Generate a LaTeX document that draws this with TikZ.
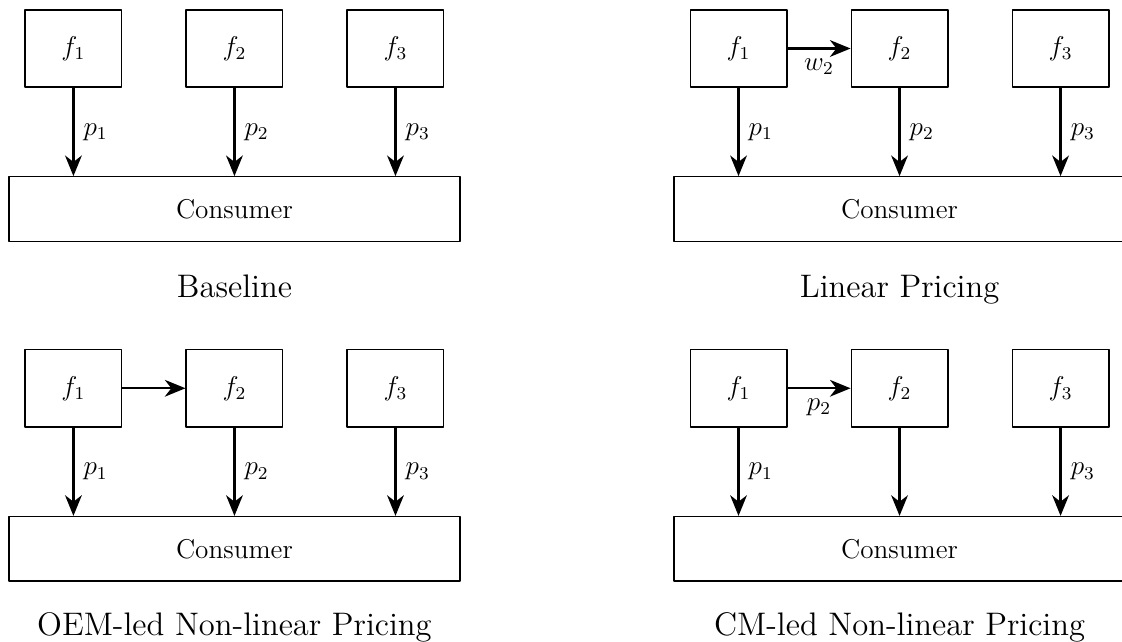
\documentclass[tikz,border=0pt,12pt]{standalone}
\usepackage{amsmath, amssymb}
\usetikzlibrary{arrows.meta,positioning,calc}

\begin{document}
\begin{tikzpicture}[line join=round,
  firm/.style={draw, semithick, minimum width=1.5cm, minimum height=1.2cm},
  cons/.style={draw, semithick, minimum width=7cm, minimum height=1cm},
  flow/.style={-{Stealth[length=3.2mm,width=2.6mm,inset=1mm]}, line width=1pt},
  paneltitle/.style={font=\large, anchor=base}]
\useasboundingbox (0,0) rectangle (17.42,-9.953);
% Baseline
\begin{scope}[shift={(0,0)}]
\node[firm] (A1) at (1.14,-0.753) {$f_1$};
\node[firm] (A2) at (3.64,-0.753) {$f_2$};
\node[firm] (A3) at (6.14,-0.753) {$f_3$};
\node[cons] (AC) at (3.64,-3.245) {Consumer};
\draw[flow] (A1) -- node[right] {$p_1$} (A1 |- AC.north);
\draw[flow] (A2) -- node[right] {$p_2$} (A2 |- AC.north);
\draw[flow] (A3) -- node[right] {$p_3$} (A3 |- AC.north);
\node[paneltitle] (Atitle) at ($(AC.south)+(0,-0.86)$) {Baseline};
\end{scope}
% Linear Pricing
\begin{scope}[shift={(10.326,0)}]
\node[firm] (B1) at (1.14,-0.753) {$f_1$};
\node[firm] (B2) at (3.64,-0.753) {$f_2$};
\node[firm] (B3) at (6.14,-0.753) {$f_3$};
\node[cons] (BC) at (3.64,-3.245) {Consumer};
\draw[flow] (B1) -- node[below] {$w_2$} (B2);
\draw[flow] (B1) -- node[right] {$p_1$} (B1 |- BC.north);
\draw[flow] (B2) -- node[right] {$p_2$} (B2 |- BC.north);
\draw[flow] (B3) -- node[right] {$p_3$} (B3 |- BC.north);
\node[paneltitle] (Btitle) at ($(BC.south)+(0,-0.86)$) {Linear Pricing};
\end{scope}
% OEM-led Non-linear Pricing
\begin{scope}[shift={(0,-5.275)}]
\node[firm] (C1) at (1.14,-0.753) {$f_1$};
\node[firm] (C2) at (3.64,-0.753) {$f_2$};
\node[firm] (C3) at (6.14,-0.753) {$f_3$};
\node[cons] (CC) at (3.64,-3.245) {Consumer};
\draw[flow] (C1) -- (C2);
\draw[flow] (C1) -- node[right] {$p_1$} (C1 |- CC.north);
\draw[flow] (C2) -- node[right] {$p_2$} (C2 |- CC.north);
\draw[flow] (C3) -- node[right] {$p_3$} (C3 |- CC.north);
\node[paneltitle] (Ctitle) at ($(CC.south)+(0,-0.84)$) {OEM-led Non-linear Pricing};
\end{scope}
% CM-led Non-linear Pricing
\begin{scope}[shift={(10.326,-5.275)}]
\node[firm] (D1) at (1.14,-0.753) {$f_1$};
\node[firm] (D2) at (3.64,-0.753) {$f_2$};
\node[firm] (D3) at (6.14,-0.753) {$f_3$};
\node[cons] (DC) at (3.64,-3.245) {Consumer};
\draw[flow] (D1) -- node[below] {$p_2$} (D2);
\draw[flow] (D1) -- node[right] {$p_1$} (D1 |- DC.north);
\draw[flow] (D2) -- (D2 |- DC.north);
\draw[flow] (D3) -- node[right] {$p_3$} (D3 |- DC.north);
\node[paneltitle] (Dtitle) at ($(DC.south)+(0,-0.84)$) {CM-led Non-linear Pricing};
\end{scope}
\end{tikzpicture}
\end{document}
